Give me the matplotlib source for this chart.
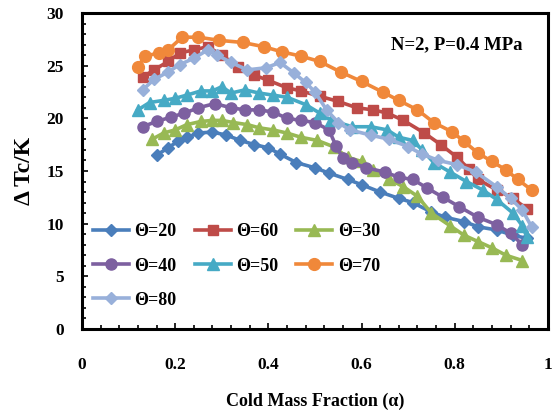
import matplotlib
matplotlib.use("Agg")
import matplotlib.pyplot as plt
from matplotlib.ticker import MultipleLocator

# ---- data ----
x20 = [0.16,0.185,0.205,0.225,0.25,0.28,0.31,0.34,0.37,0.40,0.425,0.46,0.50,0.53,0.57,0.60,0.64,0.68,0.71,0.75,0.78,0.82,0.85,0.89,0.925,0.955]
y20 = [16.5,17.2,17.8,18.2,18.6,18.7,18.4,17.9,17.5,17.2,16.6,15.8,15.3,14.8,14.2,13.7,13.0,12.4,12.0,11.1,10.6,10.2,9.7,9.4,8.9,8.6]

x60 = [0.13,0.155,0.185,0.21,0.24,0.27,0.30,0.335,0.37,0.40,0.44,0.47,0.51,0.55,0.59,0.625,0.655,0.69,0.735,0.77,0.805,0.83,0.85,0.89,0.925,0.955]
y60 = [23.9,24.6,25.4,26.2,26.5,26.8,26.0,24.9,24.1,23.6,22.9,22.6,22.1,21.6,21.0,20.8,20.5,19.8,18.6,17.5,16.3,15.2,14.2,13.2,12.4,11.4]

x30 = [0.15,0.175,0.20,0.225,0.255,0.28,0.30,0.325,0.355,0.38,0.41,0.44,0.47,0.505,0.54,0.57,0.60,0.625,0.66,0.69,0.72,0.75,0.79,0.82,0.85,0.88,0.91,0.945]
y30 = [18.0,18.6,18.9,19.4,19.7,19.8,19.8,19.6,19.4,19.1,18.9,18.6,18.2,17.9,17.3,16.3,15.9,15.1,14.2,13.5,12.6,11.0,9.8,8.9,8.3,7.7,7.0,6.5]

x40 = [0.13,0.16,0.19,0.22,0.25,0.285,0.32,0.35,0.38,0.41,0.44,0.47,0.50,0.53,0.545,0.56,0.58,0.61,0.65,0.68,0.71,0.74,0.775,0.81,0.85,0.89,0.92,0.945]
y40 = [19.2,19.7,20.1,20.5,21.0,21.4,21.0,20.8,20.8,20.6,20.0,19.8,19.6,18.9,17.4,16.2,15.8,15.3,14.9,14.4,14.2,13.4,12.5,11.6,10.6,9.9,9.1,8.0]

x50 = [0.12,0.145,0.175,0.20,0.225,0.255,0.28,0.30,0.32,0.35,0.38,0.41,0.44,0.48,0.51,0.535,0.58,0.62,0.655,0.68,0.71,0.73,0.755,0.79,0.825,0.86,0.89,0.925,0.945,0.955]
y50 = [20.8,21.5,21.7,21.9,22.2,22.6,22.6,23.0,22.4,22.7,22.4,22.2,22.0,21.3,20.5,19.8,19.2,19.2,18.9,18.2,17.9,17.0,15.8,14.9,14.0,13.2,12.3,11.0,9.8,8.7]

x70 = [0.12,0.135,0.165,0.185,0.215,0.25,0.295,0.345,0.39,0.43,0.47,0.51,0.555,0.60,0.645,0.68,0.72,0.755,0.795,0.82,0.85,0.88,0.91,0.935,0.965]
y70 = [24.9,25.9,26.2,26.5,27.7,27.7,27.4,27.2,26.8,26.3,25.9,25.4,24.4,23.5,22.5,21.7,20.8,19.6,18.7,17.8,16.7,15.9,15.1,14.2,13.2]

x80 = [0.13,0.155,0.185,0.21,0.24,0.27,0.29,0.32,0.355,0.395,0.425,0.455,0.48,0.50,0.525,0.55,0.575,0.62,0.66,0.70,0.73,0.765,0.805,0.845,0.89,0.92,0.945,0.965]
y80 = [22.7,23.7,24.4,25.1,25.7,26.5,26.0,25.3,24.6,24.8,25.3,24.3,23.4,22.5,20.8,19.6,18.9,18.4,18.0,17.3,16.6,16.0,15.6,14.9,13.5,12.4,11.3,9.7]

labels = ["Θ=20", "Θ=60", "Θ=30", "Θ=40", "Θ=50", "Θ=70", "Θ=80"]
x_ticks = [0, 0.2, 0.4, 0.6, 0.8, 1]
x_tick_labels = ["0", "0.2", "0.4", "0.6", "0.8", "1"]
y_ticks = [0, 5, 10, 15, 20, 25, 30]
annotation = "N=2, P=0.4 MPa"

# ---- styling ----
plt.rcParams['font.family'] = ['Liberation Serif', 'DejaVu Serif']

fig = plt.figure(figsize=(5.54, 4.12), dpi=100)
ax = fig.add_axes([0.148, 0.2015, 0.841, 0.767])

series = [
    (x20, y20, "#4A7EBB", "D", 6.5),
    (x60, y60, "#BE4B48", "s", 7.5),
    (x30, y30, "#98B954", "^", 8),
    (x40, y40, "#7D60A0", "o", 8),
    (x50, y50, "#46AAC5", "^", 8),
    (x70, y70, "#F0883A", "o", 8.5),
    (x80, y80, "#98B0DA", "D", 6.5),
]
handles = []
for (xs, ys, c, m, ms), lab in zip(series, labels):
    h, = ax.plot(xs, ys, color=c, marker=m, markersize=ms, lw=2.6,
                 markeredgecolor=c, label=lab)
    handles.append(h)

ax.set_xlim(0, 1)
ax.set_ylim(0, 30)
ax.set_xticks(x_ticks)
ax.set_xticklabels(x_tick_labels)
ax.set_yticks(y_ticks)
ax.xaxis.set_minor_locator(MultipleLocator(0.04))
ax.yaxis.set_minor_locator(MultipleLocator(1))
ax.tick_params(which='both', direction='in', top=False, right=False, width=1.2)
ax.tick_params(which='major', length=4)
ax.tick_params(which='minor', length=3)
ax.tick_params(axis='x', which='major', pad=20, labelsize=12.5)
ax.tick_params(axis='y', which='major', pad=13, labelsize=12.5)
for t in ax.get_xticklabels() + ax.get_yticklabels():
    t.set_fontweight('bold')
for s in ax.spines.values():
    s.set_linewidth(2.2)

ax.set_xlabel("Cold Mass Fraction (α)", fontsize=13, fontweight='bold', labelpad=14)
ax.set_ylabel("Δ Tc/K", fontsize=17, fontweight='bold', labelpad=8)

ax.text(0.805, 27.0, annotation, fontsize=13.5, fontweight='bold',
        ha='center', va='center')

order = [0, 3, 6, 1, 4, 2, 5]
ax.legend([handles[i] for i in order], [labels[i] for i in order],
          ncol=3, loc='lower left', bbox_to_anchor=(0.0, 0.03),
          frameon=False, handlelength=2.0, handletextpad=0.3,
          columnspacing=1.0, labelspacing=0.95, borderaxespad=0.2,
          prop={'weight': 'bold', 'size': 13})

fig.savefig("out.png", dpi=100)
